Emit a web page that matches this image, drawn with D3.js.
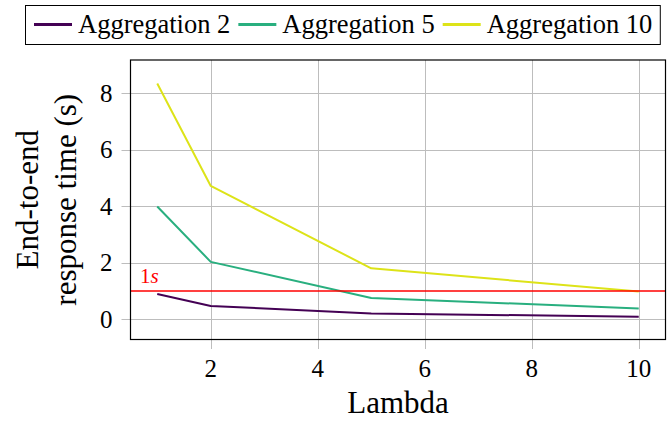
<!DOCTYPE html>
<html>
<head>
<meta charset="utf-8">
<script src="https://cdn.jsdelivr.net/npm/d3@7"></script>
<style>
  html, body { margin: 0; padding: 0; background: #fff; }
</style>
</head>
<body>
<svg id="chart" width="672" height="422"></svg>
<script>
// ---- data ----
const lambdas = [1, 2, 5, 10];
const agg2  = [0.89, 0.47, 0.20, 0.09];
const agg5  = [3.99, 2.03, 0.75, 0.38];
const agg10 = [8.35, 4.72, 1.80, 0.98];
const seriesNames = ["Aggregation 2", "Aggregation 5", "Aggregation 10"];
const seriesColors = ["#440154", "#29af7f", "#dde318"];
const xTicks = [2, 4, 6, 8, 10];
const yTicks = [0, 2, 4, 6, 8];
const threshold = 1;
const xLabel = "Lambda";
const yLabelLines = ["End-to-end", "response time (s)"];

const FONT = "'Times New Roman'";

// ---- layout ----
const svg = d3.select("#chart");
const x = d3.scaleLinear().domain([0.5, 10.5]).range([130.5, 665.5]);
const y = d3.scaleLinear().domain([-0.72, 9.18]).range([339.5, 60]);
const [x0, x1] = x.range();
const [yb, yt] = y.range();

const grid = "#bdbdbd";

function txt(sel, size) {
  return sel.style("font-family", FONT).style("font-size", size + "px").attr("fill", "#000");
}

// grid lines + outward ticks (x)
const gx = svg.append("g");
gx.selectAll("line").data(xTicks).join("line")
  .attr("x1", d => Math.round(x(d)) + 0.5).attr("x2", d => Math.round(x(d)) + 0.5)
  .attr("y1", yt).attr("y2", yb + 9.5)
  .attr("stroke", grid).attr("stroke-width", 1);
txt(gx.selectAll("text").data(xTicks).join("text"), 25)
  .attr("x", d => x(d)).attr("y", yb + 37)
  .attr("text-anchor", "middle")
  .text(d => d);

// grid lines + outward ticks (y)
const gy = svg.append("g");
gy.selectAll("line").data(yTicks).join("line")
  .attr("y1", d => Math.round(y(d)) + 0.5).attr("y2", d => Math.round(y(d)) + 0.5)
  .attr("x1", x0 - 9).attr("x2", x1)
  .attr("stroke", grid).attr("stroke-width", 1);
txt(gy.selectAll("text").data(yTicks).join("text"), 25)
  .attr("x", x0 - 18).attr("y", d => y(d) + 8.7)
  .attr("text-anchor", "end")
  .text(d => d);

// series
const allSeries = [agg2, agg5, agg10];
const line = d3.line().x(d => x(d[0])).y(d => y(d[1]));
allSeries.forEach((vals, i) => {
  svg.append("path")
    .datum(lambdas.map((l, j) => [l, vals[j]]))
    .attr("d", line)
    .attr("fill", "none")
    .attr("stroke", seriesColors[i])
    .attr("stroke-width", 2)
    .attr("stroke-linejoin", "round");
});

// threshold line
svg.append("line")
  .attr("x1", x0).attr("x2", x1)
  .attr("y1", y(threshold)).attr("y2", y(threshold))
  .attr("stroke", "#ff0000").attr("stroke-width", 1.6);
const tl = txt(svg.append("text"), 21)
  .attr("x", x0 + 9.5).attr("y", y(threshold) - 8)
  .attr("fill", "#ff0000");
tl.append("tspan").text("1");
tl.append("tspan").style("font-style", "italic").text("s");

// axis box
svg.append("rect")
  .attr("x", x0).attr("y", yt).attr("width", x1 - x0).attr("height", yb - yt)
  .attr("fill", "none").attr("stroke", "#000").attr("stroke-width", 1.2);

// axis titles
txt(svg.append("text"), 31)
  .attr("x", (x0 + x1) / 2).attr("y", 413)
  .attr("text-anchor", "middle")
  .text(xLabel);
const yl = txt(svg.append("text"), 31)
  .attr("transform", `translate(38,${(yt + yb) / 2}) rotate(-90)`)
  .attr("text-anchor", "middle");
yLabelLines.forEach((t, i) => {
  yl.append("tspan").attr("x", 0).attr("y", i * 38).text(t);
});

// legend
const lg = svg.append("g");
const box = lg.append("rect")
  .attr("x", 25.5).attr("y", 5.5).attr("height", 39)
  .attr("fill", "#fff").attr("stroke", "#000").attr("stroke-width", 1);
let cx = 34;
seriesNames.forEach((name, i) => {
  lg.append("line")
    .attr("x1", cx).attr("x2", cx + 38)
    .attr("y1", 24.5).attr("y2", 24.5)
    .attr("stroke", seriesColors[i]).attr("stroke-width", 3);
  const t = txt(lg.append("text"), 26.5)
    .attr("x", cx + 44).attr("y", 33)
    .text(name);
  cx += 44 + t.node().getComputedTextLength() + 8;
});
box.attr("width", cx - 25.5);
</script>
</body>
</html>
